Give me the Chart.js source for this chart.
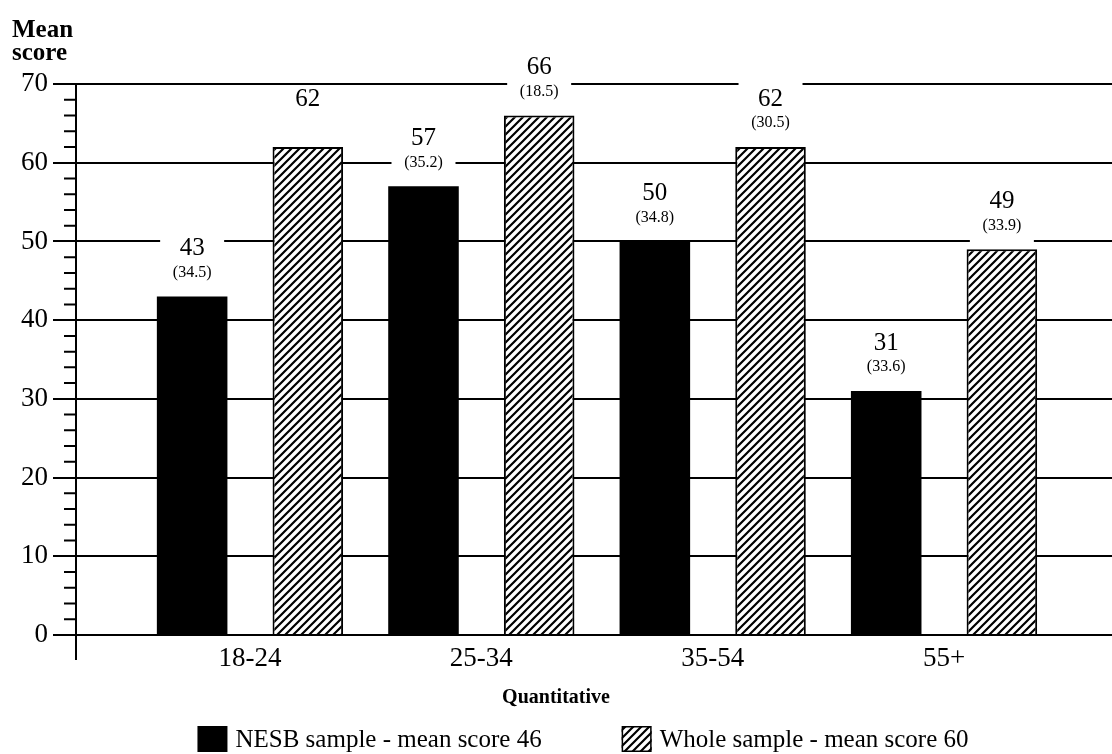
<!DOCTYPE html>
<html>
<head>
<meta charset="utf-8">
<script src="https://cdn.jsdelivr.net/npm/chart.js@4.4.1/dist/chart.umd.min.js"></script>
<style>
html, body { margin: 0; padding: 0; background: #fff; }
</style>
</head>
<body>
<canvas id="myChart" width="1112" height="754"></canvas>
<script>
var categories = ["18-24", "25-34", "35-54", "55+"];
var nesbMeans = [43, 57, 50, 31];
var nesbSD = ["(34.5)", "(35.2)", "(34.8)", "(33.6)"];
var wholeMeans = [62, 66, 62, 49];
var wholeSD = [null, "(18.5)", "(30.5)", "(33.9)"];
var seriesNames = ["NESB sample - mean score 46", "Whole sample - mean score 60"];
var yTitle = ["Mean", "score"];
var xTitle = "Quantitative";

var serif = "'Liberation Serif', 'Times New Roman', serif";
var myChart, hatch;

document.addEventListener("DOMContentLoaded", function(){
    hatch = makeHatch();
    initChart();
});

function makeHatch(){
    let c = document.createElement("canvas");
    let s = 8;
    c.width = s; c.height = s;
    let g = c.getContext("2d");
    g.fillStyle = "#fff";
    g.fillRect(0, 0, s, s);
    g.strokeStyle = "#000";
    g.lineWidth = 2.2;
    g.beginPath();
    g.moveTo(-1, s + 1); g.lineTo(s + 1, -1);
    g.moveTo(-2, 2); g.lineTo(2, -2);
    g.moveTo(s - 2, s + 2); g.lineTo(s + 2, s - 2);
    g.stroke();
    return document.getElementById("myChart").getContext("2d").createPattern(c, "repeat");
}

function toPoints(vals){
    return vals.map(function(v, i){ return {x: i + 1, y: v}; });
}

// value + (sd) above each bar, on a white patch that cuts the grid lines
const barLabels = {
    id: "barLabels",
    afterDatasetsDraw(chart){
        const ctx = chart.ctx;
        const sds = [nesbSD, wholeSD];
        ctx.save();
        chart.data.datasets.forEach(function(ds, i){
            chart.getDatasetMeta(i).data.forEach(function(bar, j){
                let sd = sds[i][j];
                let vy = bar.y - 48, sy = bar.y - 24;
                let top = sd ? vy - 17 : vy - 12;
                let bottom = sd ? sy + 18 : vy + 12;
                ctx.fillStyle = "#fff";
                ctx.fillRect(bar.x - 32, top, 64, bottom - top);
                ctx.fillStyle = "#000";
                ctx.textAlign = "center";
                ctx.textBaseline = "middle";
                ctx.font = "25px " + serif;
                ctx.fillText(String(ds.data[j].y), bar.x, vy);
                if(sd){
                    ctx.font = "16px " + serif;
                    ctx.fillText(sd, bar.x, sy);
                }
            });
        });
        ctx.restore();
    }
};

// minor ticks, axis stub, x title and legend
const extras = {
    id: "extras",
    afterDraw(chart){
        const ctx = chart.ctx;
        const area = chart.chartArea;
        const y = chart.scales.y;
        ctx.save();
        ctx.strokeStyle = "#000";
        ctx.lineWidth = 2;
        ctx.beginPath();
        for(let v = 2; v < 70; v += 2){
            if(v % 10 == 0) continue;
            let py = y.getPixelForValue(v);
            ctx.moveTo(area.left - 12, py);
            ctx.lineTo(area.left, py);
        }
        ctx.moveTo(area.left, area.bottom);
        ctx.lineTo(area.left, area.bottom + 25);
        ctx.stroke();

        ctx.fillStyle = "#000";
        ctx.textAlign = "center";
        ctx.textBaseline = "middle";
        ctx.font = "bold 20px " + serif;
        ctx.fillText(xTitle, 556, 698);

        // legend
        ctx.font = "25px " + serif;
        let box = 30, gap = 8, spacing = 80;
        let w0 = ctx.measureText(seriesNames[0]).width;
        let w1 = ctx.measureText(seriesNames[1]).width;
        let total = box + gap + w0 + spacing + box + gap + w1;
        let x = 583 - total / 2;
        let cy = 739;
        ctx.textAlign = "left";
        chart.data.datasets.forEach(function(ds, i){
            ctx.fillStyle = ds.backgroundColor;
            ctx.fillRect(x, cy - 13, box, 26);
            if(ds.borderWidth){
                ctx.lineWidth = 1.5;
                ctx.strokeRect(x + 0.75, cy - 12.25, box - 1.5, 24.5);
            }
            ctx.fillStyle = "#000";
            ctx.fillText(seriesNames[i], x + box + gap, cy + 1);
            x += box + gap + (i == 0 ? w0 : w1) + spacing;
        });
        ctx.restore();
    }
};

function initChart(){
    const ctx = document.getElementById("myChart").getContext("2d");
    myChart = new Chart(ctx, {
        type: "bar",
        data: {
            datasets: [{
                label: seriesNames[0],
                data: toPoints(nesbMeans),
                backgroundColor: "#000",
                borderWidth: 0,
                categoryPercentage: 1.0,
                barPercentage: 0.61
            }, {
                label: seriesNames[1],
                data: toPoints(wholeMeans),
                backgroundColor: hatch,
                borderColor: "#000",
                borderWidth: 2,
                categoryPercentage: 1.0,
                barPercentage: 0.61
            }]
        },
        options: {
            responsive: false,
            animation: false,
            layout: { padding: { left: 12, right: 0, top: 0, bottom: 0 } },
            plugins: {
                legend: { display: false },
                tooltip: { enabled: false },
                title: {
                    display: true,
                    text: yTitle,
                    align: "start",
                    color: "#000",
                    font: { family: serif, size: 25, weight: "bold", lineHeight: 0.92 },
                    padding: { top: 19, bottom: 19 }
                }
            },
            scales: {
                x: {
                    type: "linear",
                    min: 0.248,
                    max: 4.726,
                    offset: false,
                    grid: { display: false, offset: false },
                    border: { display: false },
                    afterBuildTicks: function(axis){
                        axis.ticks = categories.map(function(c, i){ return {value: i + 1}; });
                    },
                    afterFit: function(axis){ axis.height = 119; },
                    ticks: {
                        autoSkip: false,
                        maxRotation: 0,
                        padding: 0,
                        color: "#000",
                        font: { family: serif, size: 27 },
                        callback: function(v){ return categories[v - 1]; }
                    }
                },
                y: {
                    min: 0,
                    max: 70,
                    afterFit: function(axis){ axis.width = 64; },
                    ticks: {
                        stepSize: 10,
                        padding: 5,
                        color: "#000",
                        font: { family: serif, size: 27 }
                    },
                    grid: { color: "#000", lineWidth: 2, tickLength: 23 },
                    border: { color: "#000", width: 2 }
                }
            }
        },
        plugins: [barLabels, extras]
    });
}
</script>
</body>
</html>
